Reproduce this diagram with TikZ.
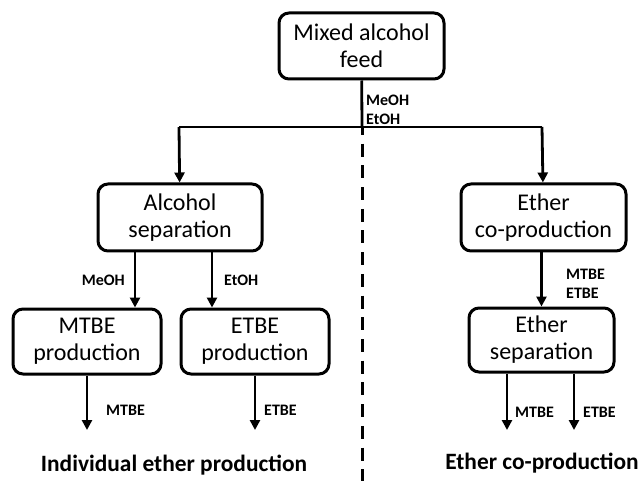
\documentclass[tikz,border=0pt]{standalone}
\usepackage{fontspec}
\setmainfont{Carlito}
\usetikzlibrary{positioning, arrows.meta, calc}

\begin{document}
\begin{tikzpicture}[x=1pt, y=-1pt,
    unit/.style={draw, line width=3pt, rounded corners=10pt, align=center,
        inner sep=0pt, font=\fontsize{24}{27}\selectfont},
    flow/.style={line width=2.8pt},
    flowarr/.style={flow, -{Triangle[length=10pt,width=10pt]}},
    stream/.style={font=\fontsize{16}{19}\selectfont\bfseries, align=left, inner sep=0pt},
    title/.style={font=\fontsize{23.4}{26}\selectfont\bfseries, inner sep=0pt}]

\useasboundingbox (0,0) rectangle (640,481);

% Feed and split
\node[unit, minimum width=165, minimum height=66] (feed) at (361.5,46) {Mixed alcohol\\feed};
\coordinate (jl) at (179,127);
\coordinate (jc) at (362,127);
\coordinate (jr) at (542,127);
\coordinate (dashend) at (362,481);
\node[stream, anchor=west] (lblfeed) at (366,110) {MeOH\\EtOH};

% Individual ether production (left)
\node[unit, minimum width=164, minimum height=67] (alcsep) at (180,217.5) {Alcohol\\separation};
\node[unit, minimum width=148, minimum height=65] (mtbe) at (87,341.5) {MTBE\\production};
\node[unit, minimum width=148, minimum height=65] (etbe) at (255,341.5) {ETBE\\production};
\coordinate (mtbeout) at (87,430);
\coordinate (etbeout) at (255,430);
\node[stream, anchor=east] (lblmeoh) at (125,280) {MeOH};
\node[stream, anchor=west] (lbletoh) at (224,280) {EtOH};
\node[stream, anchor=west] (lblmtbe) at (106,410) {MTBE};
\node[stream, anchor=west] (lbletbe) at (264,410) {ETBE};
\node[title] (titleind) at (174,465) {Individual ether production};

% Ether co-production (right)
\node[unit, minimum width=165, minimum height=67] (ethco) at (543.5,217.5) {Ether\\co-production};
\node[unit, minimum width=145, minimum height=64] (ethsep) at (541.5,340) {Ether\\separation};
\coordinate (sepmtbe) at (507,430);
\coordinate (sepetbe) at (574,430);
\node[stream, anchor=west] (lblmix) at (566,284) {MTBE\\ETBE};
\node[stream, anchor=west] (lblsepm) at (515,412) {MTBE};
\node[stream, anchor=west] (lblsepe) at (583,412) {ETBE};
\node[title] (titleco) at (542,463) {Ether co-production};

% Connectors
\draw[flow] (feed) -- (jc);
\draw[flow] (jl) -- (jr);
\draw[flow, line width=3pt, dash pattern=on 13pt off 8.7pt, dash phase=5pt] (jc) -- (dashend);
\draw[flowarr] (jl) -- (alcsep);
\draw[flowarr] (jr) -- (ethco);
\draw[flowarr] ([xshift=-45pt]alcsep.south) -- ([xshift=-45pt]alcsep.south |- mtbe.north);
\draw[flowarr] ([xshift=32pt]alcsep.south) -- ([xshift=32pt]alcsep.south |- etbe.north);
\draw[flowarr] (mtbe) -- (mtbeout);
\draw[flowarr] (etbe) -- (etbeout);
\draw[flowarr] (ethco.south -| ethsep.north) -- (ethsep);
\draw[flowarr] (ethsep.south -| sepmtbe) -- (sepmtbe);
\draw[flowarr] (ethsep.south -| sepetbe) -- (sepetbe);

\end{tikzpicture}
\end{document}
